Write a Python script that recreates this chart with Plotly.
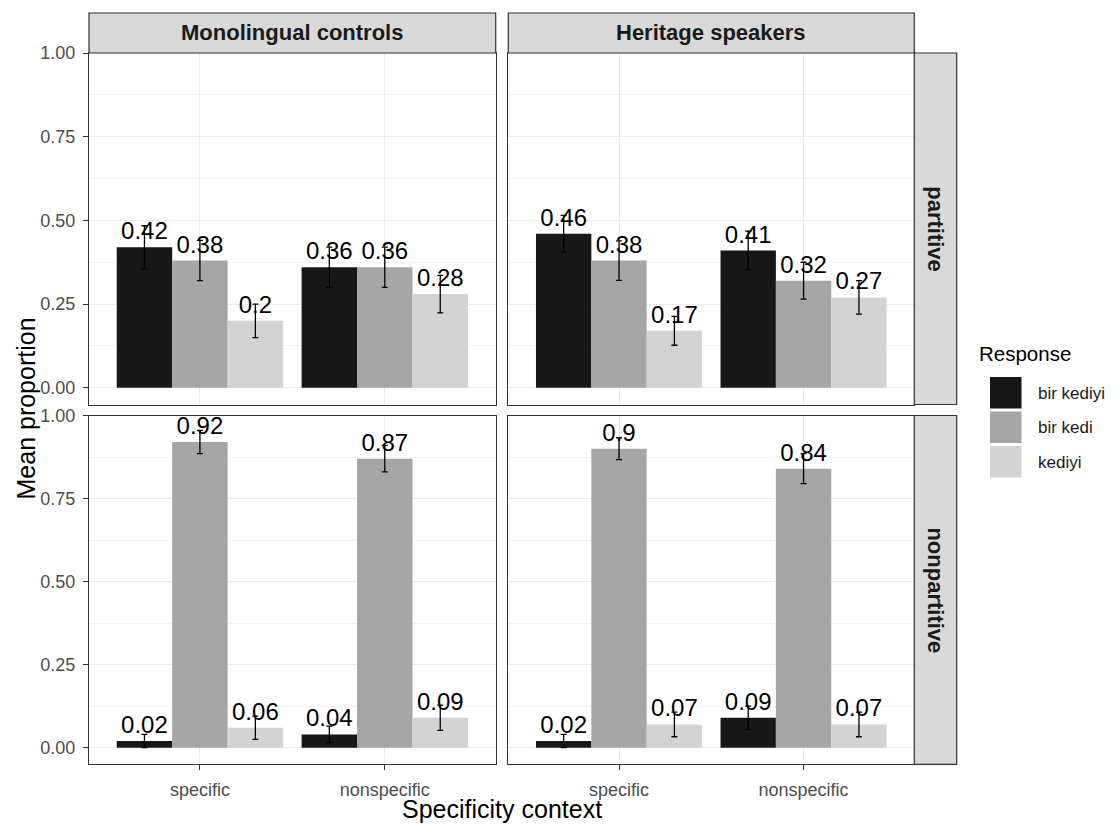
import plotly.graph_objects as go

# --- Data (rows: response, cols: context) ---
groups = ["Monolingual controls", "Heritage speakers"]
conditions = ["partitive", "nonpartitive"]
contexts = ["specific", "nonspecific"]
responses = ["bir kediyi", "bir kedi", "kediyi"]
fills = ["#171717", "#a6a6a6", "#d3d3d3"]

mono_part_mean = [[0.42, 0.36], [0.38, 0.36], [0.20, 0.28]]
mono_part_err = [[0.064, 0.06], [0.06, 0.06], [0.05, 0.056]]
herit_part_mean = [[0.46, 0.41], [0.38, 0.32], [0.17, 0.27]]
herit_part_err = [[0.055, 0.058], [0.059, 0.055], [0.043, 0.05]]
mono_nonpart_mean = [[0.02, 0.04], [0.92, 0.87], [0.06, 0.09]]
mono_nonpart_err = [[0.02, 0.025], [0.035, 0.04], [0.035, 0.038]]
herit_nonpart_mean = [[0.02, 0.09], [0.90, 0.84], [0.07, 0.07]]
herit_nonpart_err = [[0.02, 0.035], [0.033, 0.045], [0.037, 0.037]]

y_ticks = [0, 0.25, 0.5, 0.75, 1.0]
y_ticklabels = ["0.00", "0.25", "0.50", "0.75", "1.00"]

# the page puts the figure 8px in from the top-left corner
OFF = 8
W, H = 1114 - OFF, 825 - OFF
FONT = "Liberation Sans, Arial, sans-serif"

def px_x(p):
    return (p - OFF) / W

def px_y(p):
    return 1 - (p - OFF) / H

# panel geometry (screen pixels)
col_x = [(89, 495.7), (508.3, 914.3)]
row_y = [(53, 404.5), (415.5, 764.3)]

panels = [
    (0, 0, mono_part_mean, mono_part_err),
    (0, 1, herit_part_mean, herit_part_err),
    (1, 0, mono_nonpart_mean, mono_nonpart_err),
    (1, 1, herit_nonpart_mean, herit_nonpart_err),
]

fig = go.Figure()
layout = {}

for i, (r, c, means, errs) in enumerate(panels):
    n = "" if i == 0 else str(i + 1)
    xa, ya = "x" + n, "y" + n
    for k, resp in enumerate(responses):
        fig.add_trace(go.Bar(
            x=contexts, y=means[k],
            name=resp, legendgroup=resp, showlegend=False,
            offsetgroup=resp,
            marker=dict(color=fills[k], line=dict(width=0)),
            error_y=dict(type="data", array=errs[k], visible=True,
                         color="#000000", thickness=1.3, width=3),
            text=[f"{v:g}" for v in means[k]],
            textposition="outside", constraintext="none", cliponaxis=False,
            textfont=dict(family=FONT, size=24, color="#000000"),
            xaxis=xa, yaxis=ya,
        ))

    x0, x1 = col_x[c]
    y0, y1 = row_y[r]
    layout["xaxis" + n] = dict(
        domain=[px_x(x0), px_x(x1)], anchor=ya, automargin=False,
        type="category", range=[-0.6, 1.6],
        showgrid=True, gridcolor="#ebebeb", gridwidth=1,
        showline=True, mirror=True, linecolor="#333333", linewidth=1.2,
        ticks="outside" if r == 1 else "", ticklen=5, tickcolor="#333333",
        showticklabels=(r == 1), ticklabelstandoff=4,
        tickfont=dict(family=FONT, size=18, color="#4d4d4d"),
        zeroline=False, fixedrange=True,
    )
    layout["yaxis" + n] = dict(
        domain=[px_y(y1), px_y(y0)], anchor=xa, automargin=False,
        range=[-0.05, 1.0],
        tickvals=y_ticks, ticktext=y_ticklabels,
        showgrid=True, gridcolor="#ebebeb", gridwidth=1,
        minor=dict(tickvals=[0.125, 0.375, 0.625, 0.875], showgrid=True,
                   gridcolor="#f3f3f3", gridwidth=0.6),
        showline=True, mirror=True, linecolor="#333333", linewidth=1.2,
        ticks="outside" if c == 0 else "", ticklen=5, tickcolor="#333333",
        showticklabels=(c == 0), ticklabelstandoff=4,
        tickfont=dict(family=FONT, size=18, color="#4d4d4d"),
        zeroline=False, fixedrange=True,
    )

shapes = []
annotations = []

# top strips
for c, g in enumerate(groups):
    x0, x1 = col_x[c]
    shapes.append(dict(type="rect", xref="paper", yref="paper",
                       x0=px_x(x0), x1=px_x(x1), y0=px_y(53), y1=px_y(13),
                       fillcolor="#d9d9d9", line=dict(color="#333333", width=1.2)))
    annotations.append(dict(text="<b>" + g + "</b>", xref="paper", yref="paper",
                            x=px_x((x0 + x1) / 2), y=px_y(33), showarrow=False,
                            xanchor="center", yanchor="middle",
                            font=dict(family=FONT, size=22, color="#1a1a1a")))

# right strips
for r, cond in enumerate(conditions):
    y0, y1 = row_y[r]
    shapes.append(dict(type="rect", xref="paper", yref="paper",
                       x0=px_x(914.3), x1=px_x(956.7), y0=px_y(y1), y1=px_y(y0),
                       fillcolor="#d9d9d9", line=dict(color="#333333", width=1.2)))
    annotations.append(dict(text="<b>" + cond + "</b>", xref="paper", yref="paper",
                            x=px_x(935.5), y=px_y((y0 + y1) / 2), showarrow=False,
                            xanchor="center", yanchor="middle", textangle=90,
                            font=dict(family=FONT, size=22, color="#1a1a1a")))

# axis titles
annotations.append(dict(text="Specificity context", xref="paper", yref="paper",
                        x=px_x(501.5), y=px_y(809), showarrow=False,
                        xanchor="center", yanchor="middle",
                        font=dict(family=FONT, size=25, color="#000000")))
annotations.append(dict(text="Mean proportion", xref="paper", yref="paper",
                        x=px_x(26), y=px_y(408.5), showarrow=False, textangle=-90,
                        xanchor="center", yanchor="middle",
                        font=dict(family=FONT, size=25, color="#000000")))

# legend
annotations.append(dict(text="Response", xref="paper", yref="paper",
                        x=px_x(977), y=px_y(353), xanchor="left", yanchor="middle",
                        showarrow=False,
                        font=dict(family=FONT, size=20.5, color="#000000")))
key_tops = [377, 411.5, 446]
for k, resp in enumerate(responses):
    t = key_tops[k]
    shapes.append(dict(type="rect", xref="paper", yref="paper",
                       x0=px_x(990), x1=px_x(1021.5), y0=px_y(t + 31.5), y1=px_y(t),
                       fillcolor=fills[k], line=dict(width=0)))
    annotations.append(dict(text=resp, xref="paper", yref="paper",
                            x=px_x(1036), y=px_y(t + 16), xanchor="left",
                            yanchor="middle", showarrow=False,
                            font=dict(family=FONT, size=17, color="#1a1a1a")))

fig.update_layout(
    width=W, height=H,
    margin=dict(l=0, r=0, t=0, b=0, autoexpand=False),
    paper_bgcolor="white", plot_bgcolor="white",
    barmode="group", bargap=0.1, bargroupgap=0,
    showlegend=False,
    shapes=shapes, annotations=annotations,
    font=dict(family=FONT),
    **layout,
)

fig.write_html("out.html", config={"displayModeBar": False})
